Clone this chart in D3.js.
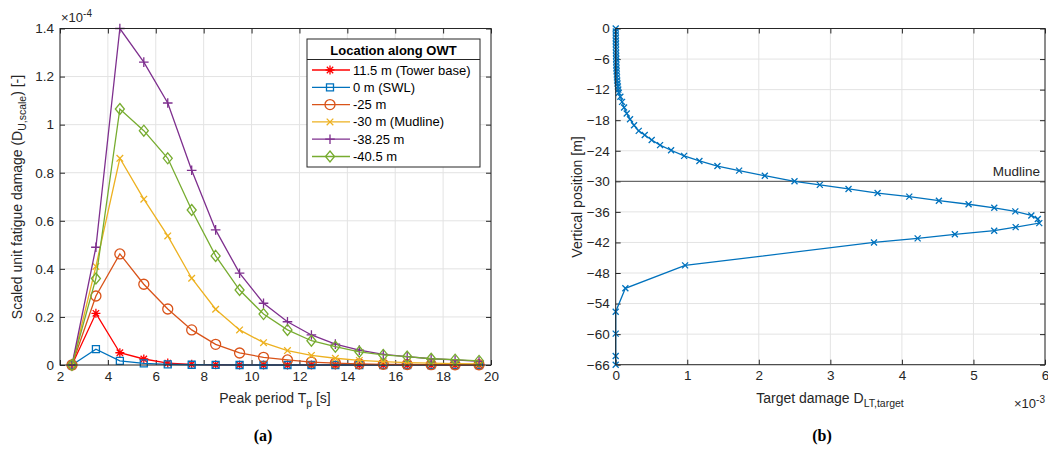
<!DOCTYPE html>
<html>
<head>
<meta charset="utf-8">
<script src="https://cdn.jsdelivr.net/npm/d3@7/dist/d3.min.js"></script>
<style>
body { margin: 0; background: #fff; }
svg { font-family: "Liberation Sans", Arial, Helvetica, sans-serif; }
</style>
</head>
<body>
<svg width="1048" height="450"></svg>
<script>

// ---- panel (a): scaled unit fatigue damage vs peak period (x 1e-4)
var periods = [2.5, 3.5, 4.5, 5.5, 6.5, 7.5, 8.5, 9.5, 10.5, 11.5, 12.5, 13.5, 14.5, 15.5, 16.5, 17.5, 18.5, 19.5];
var towerBase = [0, 0.215, 0.051, 0.025, 0.008, 0.003, 0.001, 0.0005, 0, 0, 0, 0, 0, 0, 0, 0, 0, 0];
var swl = [0, 0.066, 0.017, 0.007, 0.003, 0.001, 0.0005, 0, 0, 0, 0, 0, 0, 0, 0, 0, 0, 0];
var minus25 = [0, 0.287, 0.462, 0.336, 0.233, 0.146, 0.086, 0.050, 0.032, 0.021, 0.012, 0.008, 0.005, 0.003, 0.002, 0.0015, 0.001, 0.001];
var minus30 = [0, 0.41, 0.86, 0.69, 0.537, 0.361, 0.232, 0.146, 0.093, 0.060, 0.040, 0.028, 0.019, 0.014, 0.010, 0.008, 0.006, 0.005];
var minus3825 = [0, 0.49, 1.40, 1.26, 1.09, 0.81, 0.562, 0.382, 0.257, 0.18, 0.125, 0.087, 0.062, 0.044, 0.035, 0.026, 0.021, 0.015];
var minus405 = [0, 0.36, 1.065, 0.975, 0.86, 0.645, 0.454, 0.312, 0.212, 0.146, 0.101, 0.076, 0.055, 0.042, 0.035, 0.026, 0.022, 0.017];

var seriesNames = ["11.5 m (Tower base)", "0 m (SWL)", "-25 m", "-30 m (Mudline)", "-38.25 m", "-40.5 m"];
var seriesValues = [towerBase, swl, minus25, minus30, minus3825, minus405];
var seriesColors = ["#ff0000", "#0072bd", "#d95319", "#edb120", "#7e2f8e", "#77ac30"];
var seriesMarkers = ["star", "square", "circle", "cross", "plus", "diamond"];
var legendTitle = "Location along OWT";

var periodTicks = [2, 4, 6, 8, 10, 12, 14, 16, 18, 20];
var damageTicks = [0, 0.2, 0.4, 0.6, 0.8, 1, 1.2, 1.4];

// ---- panel (b): target damage along the vertical position (x 1e-3)
var depth = [0, -0.6, -1.2, -1.8, -2.4, -3.0, -3.6, -4.2, -4.8, -5.4, -6.0, -6.6, -7.2, -7.8, -8.4, -9.0, -9.6, -10.2, -10.8, -11.4, -12.0, -12.6,
    -13.4, -14.4, -15.5, -16.7, -17.8, -19.0, -20.1, -20.9, -21.9, -22.9, -23.9, -25.0, -26.0, -27.0, -27.9, -28.9, -30.0,
    -30.7, -31.5, -32.3, -33.0, -33.8, -34.5, -35.2, -35.9, -36.7, -37.4, -38.2, -39.0, -39.7, -40.4, -41.2, -42.0,
    -46.5, -51.0, -55.6, -59.9, -64.3, -66.0];
var targetDamage = [0, 0.001, 0.001, 0.002, 0.002, 0.003, 0.003, 0.004, 0.005, 0.006, 0.007, 0.008, 0.009, 0.011, 0.013, 0.015, 0.018, 0.021, 0.025, 0.030, 0.036, 0.043,
    0.065, 0.089, 0.117, 0.154, 0.2, 0.256, 0.322, 0.406, 0.503, 0.62, 0.774, 0.956, 1.17, 1.422, 1.725, 2.084, 2.499,
    2.853, 3.254, 3.66, 4.103, 4.517, 4.932, 5.291, 5.585, 5.809, 5.9, 5.92, 5.59, 5.29, 4.74, 4.22, 3.61,
    0.97, 0.135, 0, 0, 0, 0];
var depthTicks = [0, -6, -12, -18, -24, -30, -36, -42, -48, -54, -60, -66];
var targetTicks = [0, 1, 2, 3, 4, 5, 6];
var mudlineDepth = -30;

var axisColor = "#262626";
var gridColor = "#e3e3e3";

var svg = d3.select("svg");

// marker shapes, centred on 0,0
function markerPath(type) {
    if (type == "star") {
        var s = 4.5, a = 3.2;
        return "M0," + (-s) + "L0," + s + "M" + (-s) + ",0L" + s + ",0M" + (-a) + "," + (-a) + "L" + a + "," + a + "M" + (-a) + "," + a + "L" + a + "," + (-a);
    }
    if (type == "square") return "M-3.5,-3.5H3.5V3.5H-3.5Z";
    if (type == "circle") return "M5,0A5,5 0 1,1 -5,0A5,5 0 1,1 5,0Z";
    if (type == "cross") return "M-3.3,-3.3L3.3,3.3M-3.3,3.3L3.3,-3.3";
    if (type == "plus") return "M0,-4.8V4.8M-4.8,0H4.8";
    if (type == "diamond") return "M0,-5.5L4.5,0L0,5.5L-4.5,0Z";
}

// draws grid, inward ticks on all four sides and the box
function drawFrame(g, x, y, xTicks, yTicks, fmtX, fmtY) {
    var x0 = x.range()[0], x1 = x.range()[1];
    var y0 = y.range()[0], y1 = y.range()[1];

    g.append("g").selectAll("line").data(xTicks).enter().append("line")
        .attr("x1", d => x(d)).attr("x2", d => x(d))
        .attr("y1", y0).attr("y2", y1)
        .attr("stroke", gridColor);
    g.append("g").selectAll("line").data(yTicks).enter().append("line")
        .attr("y1", d => y(d)).attr("y2", d => y(d))
        .attr("x1", x0).attr("x2", x1)
        .attr("stroke", gridColor);

    var axes = [
        [d3.axisBottom(x).tickValues(xTicks).tickFormat(fmtX), "translate(0," + y0 + ")"],
        [d3.axisTop(x).tickValues(xTicks).tickFormat(""), "translate(0," + y1 + ")"],
        [d3.axisLeft(y).tickValues(yTicks).tickFormat(fmtY), "translate(" + x0 + ",0)"],
        [d3.axisRight(y).tickValues(yTicks).tickFormat(""), "translate(" + x1 + ",0)"]
    ];
    axes.forEach(p => {
        var a = g.append("g").attr("transform", p[1])
            .call(p[0].tickSizeInner(-5).tickSizeOuter(0).tickPadding(6));
        a.select(".domain").remove();
        a.selectAll("line").attr("stroke", axisColor);
        a.selectAll("text").attr("fill", axisColor).style("font-size", "13.5px").style("font-family", "Liberation Sans, Arial, sans-serif");
    });
}

function drawBox(g, x, y) {
    g.append("rect")
        .attr("x", x.range()[0]).attr("y", y.range()[1])
        .attr("width", x.range()[1] - x.range()[0])
        .attr("height", y.range()[0] - y.range()[1])
        .attr("fill", "none").attr("stroke", axisColor).attr("stroke-width", 1);
}

// ================= panel (a) =================
var xA = d3.scaleLinear().domain([2, 20]).range([60, 491]);
var yA = d3.scaleLinear().domain([0, 1.4]).range([365, 28.5]);
var gA = svg.append("g");

drawFrame(gA, xA, yA, periodTicks, damageTicks, d3.format("d"), d3.format("~g"));

var lineA = d3.line().x((d, i) => xA(periods[i])).y(d => yA(d));

seriesValues.forEach((vals, k) => {
    var sg = gA.append("g");
    sg.append("path")
        .attr("d", lineA(vals))
        .attr("fill", "none")
        .attr("stroke", seriesColors[k])
        .attr("stroke-width", 1.3);
    sg.selectAll("path.m").data(vals).enter().append("path")
        .attr("class", "m")
        .attr("d", markerPath(seriesMarkers[k]))
        .attr("transform", (d, i) => "translate(" + xA(periods[i]) + "," + yA(d) + ")")
        .attr("fill", "none")
        .attr("stroke", seriesColors[k])
        .attr("stroke-width", 1.3);
});

drawBox(gA, xA, yA);

// exponent
gA.append("text").attr("x", 61).attr("y", 22).attr("fill", axisColor).style("font-size", "13px")
    .html('\u00d710<tspan dy="-5" style="font-size:10px">-4</tspan>');

// legend
var legend = gA.append("g").attr("transform", "translate(307,39)");
legend.append("rect").attr("width", 173).attr("height", 128)
    .attr("fill", "#fff").attr("stroke", axisColor).attr("stroke-width", 1);
legend.append("line").attr("x1", 0).attr("x2", 173).attr("y1", 20.5).attr("y2", 20.5)
    .attr("stroke", axisColor);
legend.append("text").attr("x", 86.5).attr("y", 15.5).attr("text-anchor", "middle")
    .style("font-size", "13px").style("font-weight", "bold").attr("fill", "#000")
    .text(legendTitle);

var keys = legend.selectAll(".key").data(seriesNames).enter().append("g")
    .attr("class", "key")
    .attr("transform", (d, i) => "translate(0," + (31 + i * 17.3) + ")");
keys.append("line").attr("x1", 5).attr("x2", 43)
    .attr("stroke", (d, i) => seriesColors[i]).attr("stroke-width", 1.3);
keys.append("path").attr("d", (d, i) => markerPath(seriesMarkers[i]))
    .attr("transform", "translate(23,0)")
    .attr("fill", "none").attr("stroke", (d, i) => seriesColors[i]).attr("stroke-width", 1.3);
keys.append("text").attr("x", 46).attr("y", 4.5).style("font-size", "13px").attr("fill", "#000")
    .text(d => d);

// axis labels
gA.append("text").attr("x", 275).attr("y", 403).attr("text-anchor", "middle")
    .attr("fill", axisColor).style("font-size", "14px")
    .html('Peak period T<tspan dy="4" style="font-size:10.5px">p</tspan><tspan dy="-4"> [s]</tspan>');
gA.append("text").attr("transform", "translate(22,197) rotate(-90)").attr("text-anchor", "middle")
    .attr("fill", axisColor).style("font-size", "14px")
    .html('Scaled unit fatigue damage (D<tspan dy="4" style="font-size:10.5px">U,scale</tspan><tspan dy="-4">) [-]</tspan>');

// ================= panel (b) =================
var xB = d3.scaleLinear().domain([0, 6]).range([615.7, 1045]);
var yB = d3.scaleLinear().domain([-66, 0]).range([364.7, 28.5]);
var gB = svg.append("g");

drawFrame(gB, xB, yB, targetTicks, depthTicks, d3.format("d"), d3.format("d"));

// mudline
gB.append("line").attr("x1", xB(0)).attr("x2", xB(6))
    .attr("y1", yB(mudlineDepth)).attr("y2", yB(mudlineDepth))
    .attr("stroke", "#4d4d4d").attr("stroke-width", 1);
gB.append("text").attr("x", 1040).attr("y", yB(mudlineDepth) - 5).attr("text-anchor", "end")
    .attr("fill", axisColor).style("font-size", "13.5px").text("Mudline");

var lineB = d3.line().x(d => xB(d)).y((d, i) => yB(depth[i]));
gB.append("path").attr("d", lineB(targetDamage))
    .attr("fill", "none").attr("stroke", "#0072bd").attr("stroke-width", 1.3);
gB.selectAll("path.m").data(targetDamage).enter().append("path")
    .attr("class", "m")
    .attr("d", "M-3,-3L3,3M-3,3L3,-3")
    .attr("transform", (d, i) => "translate(" + xB(d) + "," + yB(depth[i]) + ")")
    .attr("fill", "none").attr("stroke", "#0072bd").attr("stroke-width", 1.3);

drawBox(gB, xB, yB);

gB.append("text").attr("x", 1045).attr("y", 408).attr("text-anchor", "end").attr("fill", axisColor)
    .style("font-size", "13px")
    .html('\u00d710<tspan dy="-5" style="font-size:10px">-3</tspan>');

gB.append("text").attr("x", 830).attr("y", 403).attr("text-anchor", "middle")
    .attr("fill", axisColor).style("font-size", "14px")
    .html('Target damage D<tspan dy="4" style="font-size:10.5px">LT,target</tspan>');
gB.append("text").attr("transform", "translate(582,197) rotate(-90)").attr("text-anchor", "middle")
    .attr("fill", axisColor).style("font-size", "14px")
    .text("Vertical position [m]");

// captions
svg.append("text").attr("x", 263).attr("y", 441).attr("text-anchor", "middle")
    .style("font-family", "Liberation Serif, DejaVu Serif, serif").style("font-weight", "bold").style("font-size", "16px")
    .text("(a)");
svg.append("text").attr("x", 822).attr("y", 441).attr("text-anchor", "middle")
    .style("font-family", "Liberation Serif, DejaVu Serif, serif").style("font-weight", "bold").style("font-size", "16px")
    .text("(b)");

</script>
</body>
</html>
